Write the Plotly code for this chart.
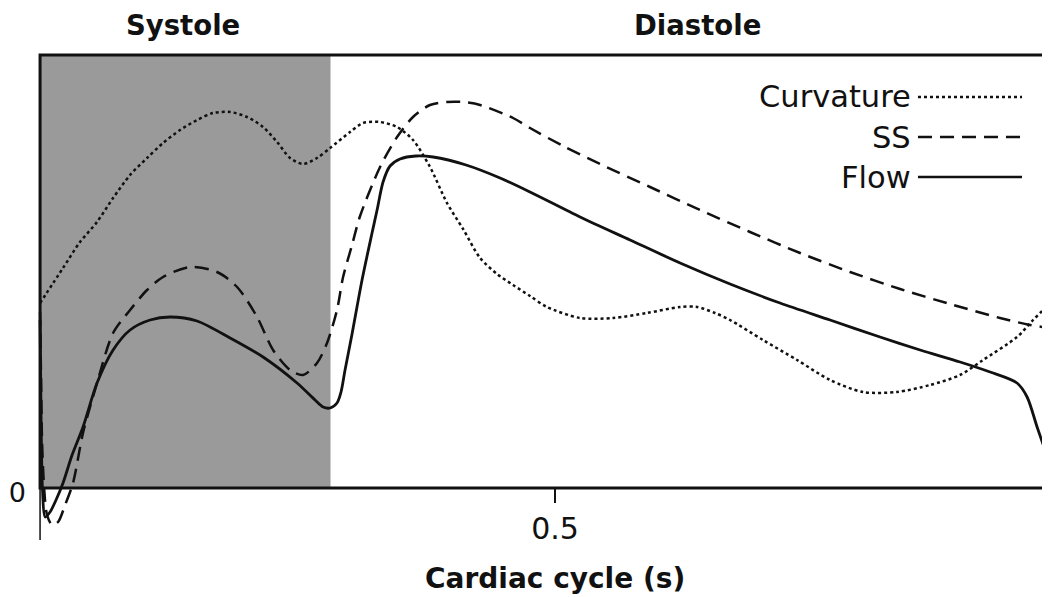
import plotly.graph_objects as go

# time axis (s) and signals, arbitrary units
flow_t = [0.000, 0.001, 0.0024, 0.0049, 0.0097, 0.0155, 0.0223, 0.0311, 0.0417, 0.0553,
          0.0709, 0.0874, 0.1068, 0.1262, 0.1524, 0.1845, 0.2165, 0.2495, 0.2670, 0.2748,
          0.2816, 0.2883, 0.2922, 0.2961, 0.3029, 0.3126, 0.3223, 0.3272, 0.3330, 0.3398,
          0.3495, 0.3650, 0.3816, 0.4136, 0.4466, 0.4757, 0.5243, 0.5728, 0.6214, 0.6699,
          0.7184, 0.7670, 0.8155, 0.8544, 0.8932, 0.9223, 0.9485, 0.9583, 0.9680, 0.9757,
          0.9806, 0.985]
flow = [1.68, 0.68, -0.02, -0.29, -0.24, -0.12, 0.05, 0.33, 0.61, 1.05,
        1.38, 1.58, 1.68, 1.71, 1.67, 1.50, 1.31, 1.05, 0.88, 0.81,
        0.80, 0.85, 0.96, 1.18, 1.54, 2.08, 2.55, 2.78, 3.06, 3.22,
        3.29, 3.32, 3.31, 3.23, 3.10, 2.96, 2.71, 2.48, 2.25, 2.04,
        1.85, 1.68, 1.51, 1.38, 1.26, 1.16, 1.05, 0.91, 0.61, 0.38,
        0.23, 0.10]

ss_t = [0.000, 0.001, 0.0019, 0.0039, 0.0068, 0.0117, 0.0175, 0.0243, 0.0320, 0.0417,
        0.0553, 0.0709, 0.0874, 0.1039, 0.1194, 0.1456, 0.1718, 0.1913, 0.2107, 0.2262,
        0.2427, 0.2553, 0.2689, 0.2786, 0.2883, 0.2942, 0.3029, 0.3107, 0.3301, 0.3466,
        0.3621, 0.3786, 0.3951, 0.4107, 0.4272, 0.4592, 0.4757, 0.5078, 0.5437, 0.5922,
        0.6408, 0.6893, 0.7379, 0.7864, 0.8350, 0.8835, 0.9320, 0.9612, 0.9806, 0.99]
ss = [1.76, 1.08, 0.48, 0.01, -0.27, -0.37, -0.34, -0.17, 0.05, 0.55,
      1.05, 1.55, 1.78, 1.98, 2.11, 2.21, 2.16, 2.01, 1.71, 1.38,
      1.18, 1.13, 1.25, 1.45, 1.78, 2.11, 2.43, 2.72, 3.21, 3.51,
      3.71, 3.83, 3.86, 3.86, 3.83, 3.70, 3.60, 3.42, 3.24, 3.01,
      2.78, 2.56, 2.35, 2.16, 1.99, 1.84, 1.70, 1.63, 1.60, 1.59]

curv_t = [0.000, 0.0223, 0.0388, 0.0553, 0.0709, 0.0874, 0.1039, 0.1194, 0.1359, 0.1524,
          0.1680, 0.1845, 0.2010, 0.2165, 0.2301, 0.2427, 0.2553, 0.2689, 0.2816, 0.3010,
          0.3136, 0.3301, 0.3466, 0.3621, 0.3786, 0.3951, 0.4107, 0.4272, 0.4437, 0.4592,
          0.4757, 0.4922, 0.5243, 0.5563, 0.5893, 0.6214, 0.6379, 0.6553, 0.6699, 0.7019,
          0.7350, 0.7670, 0.7990, 0.8320, 0.8641, 0.8932, 0.9155, 0.9485, 0.9641, 0.9806, 0.99]
curv = [1.85, 2.20, 2.46, 2.66, 2.90, 3.13, 3.30, 3.45, 3.58, 3.68,
        3.75, 3.76, 3.71, 3.61, 3.46, 3.30, 3.24, 3.30, 3.40, 3.56,
        3.65, 3.66, 3.61, 3.48, 3.21, 2.85, 2.59, 2.30, 2.14, 2.03,
        1.92, 1.81, 1.70, 1.70, 1.75, 1.81, 1.81, 1.75, 1.68, 1.48,
        1.28, 1.08, 0.96, 0.96, 1.03, 1.13, 1.28, 1.51, 1.68, 1.85, 1.96]

systole_end = 0.282
y_top = 4.33
tick_vals = [0.5]
tick_text = ["0.5"]

FONT = "DejaVu Sans"
INK = "#111111"

# page body adds 8px, so the figure is 8px smaller and every pixel target is shifted
OFF = 8
W, H = 1050 - OFF, 597 - OFF
L, T, B = 38 - OFF, 52 - OFF, 57
pw, ph = W - L, H - T - B


def px(p):
    return (p - OFF - L) / pw


def py(p):
    return (H - B - (p - OFF)) / ph


fig = go.Figure()

fig.add_trace(go.Scatter(x=curv_t, y=curv, mode="lines", name="Curvature",
                         line=dict(color=INK, width=2.5, dash="dot", shape="spline", smoothing=0.8)))
fig.add_trace(go.Scatter(x=ss_t, y=ss, mode="lines", name="SS",
                         line=dict(color=INK, width=2.5, dash="14px,8px", shape="spline", smoothing=0.8)))
fig.add_trace(go.Scatter(x=flow_t, y=flow, mode="lines", name="Flow",
                         line=dict(color=INK, width=2.8, shape="spline", smoothing=0.8)))

# systole shading and frame
fig.add_shape(type="rect", xref="x", yref="y", x0=0, x1=systole_end, y0=0, y1=y_top,
              fillcolor="#9a9a9a", line_width=0, layer="below")
fig.add_shape(type="rect", xref="x", yref="y", x0=0, x1=1.5, y0=0, y1=y_top,
              line=dict(color=INK, width=3), layer="above")
fig.add_shape(type="line", xref="x", yref="y", x0=0, x1=0, y0=-0.52, y1=0,
              line=dict(color=INK, width=1.5))

# hand made legend, text on the left of the sample line
legend_items = [("Curvature", "dot", 97), ("SS", "14px,8px", 137), ("Flow", "solid", 177)]
for name, dash, ly in legend_items:
    fig.add_annotation(xref="paper", yref="paper", x=px(913), y=py(ly), text=name,
                       showarrow=False, xanchor="right", yanchor="middle",
                       font=dict(family=FONT, size=30.5, color=INK))
    fig.add_shape(type="line", xref="paper", yref="paper", x0=px(918), x1=px(1022),
                  y0=py(ly), y1=py(ly), line=dict(color=INK, width=2.5, dash=dash))

for label, xc in [("Systole", 0.139), ("Diastole", 0.638)]:
    fig.add_annotation(xref="x", yref="paper", x=xc, y=py(25), text="<b>%s</b>" % label,
                       showarrow=False, xanchor="center", yanchor="middle",
                       font=dict(family=FONT, size=27.5, color=INK))

fig.add_annotation(xref="x", yref="paper", x=0.5, y=py(578), text="<b>Cardiac cycle (s)</b>",
                   showarrow=False, xanchor="center", yanchor="middle",
                   font=dict(family=FONT, size=28, color=INK))

# the "1" tick label, mostly off the right edge
fig.add_annotation(xref="paper", yref="paper", x=px(1054), y=py(527), text="1",
                   showarrow=False, xanchor="center", yanchor="middle",
                   font=dict(family=FONT, size=30, color=INK))

fig.update_layout(
    width=W, height=H, margin=dict(l=L, r=0, t=T, b=B),
    paper_bgcolor="white", plot_bgcolor="white", showlegend=False,
    font=dict(family=FONT, color=INK),
)
fig.update_xaxes(range=[-0.002, -0.002 + pw / 1030], anchor="free", position=0.52 / 4.88,
                 showline=False, showgrid=False, zeroline=False,
                 tickvals=tick_vals, ticktext=tick_text, ticks="outside", ticklen=14,
                 tickwidth=1.5, tickcolor=INK, tickfont=dict(size=30, family=FONT))
fig.update_yaxes(range=[-0.52, 4.36], showline=False, showgrid=False, zeroline=False,
                 tickvals=[0], ticktext=["0"], ticks="", tickfont=dict(size=27, family=FONT),
                 ticklabelstandoff=11, ticklabelshift=5)

fig.write_html("out.html")
